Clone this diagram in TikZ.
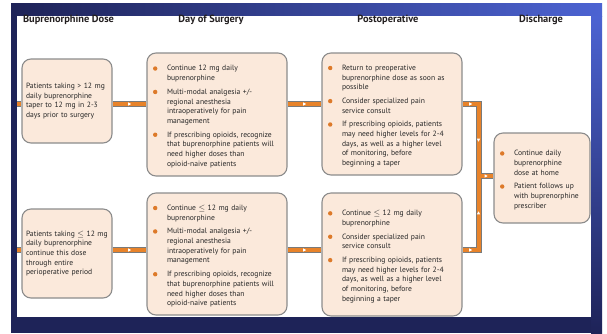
\documentclass[tikz,border=0pt]{standalone}
\usepackage{fontspec}
\setmainfont{PT Sans}
\usetikzlibrary{decorations.markings}
\definecolor{navy}{HTML}{1E2358}
\definecolor{brightblue}{HTML}{4C63D2}
\definecolor{boxfill}{HTML}{FBE9DB}
\definecolor{boxgray}{HTML}{8C8C8C}
\definecolor{lorange}{HTML}{E8832A}
\definecolor{lgray}{HTML}{7A7A7A}
\definecolor{bulletor}{HTML}{DD7A2A}
\definecolor{txt}{HTML}{262626}
\definecolor{hdrtxt}{HTML}{231F20}
\newcommand\bdot{\tikz[baseline=0pt]\fill[bulletor] (2.2pt,2.4pt) circle[radius=2.2pt];}
\newcommand\bitem[1]{\par\hangindent=14pt\hangafter=1\noindent\makebox[14pt][l]{\bdot}#1\par}
\newcommand\igap{\vskip4pt}
\tikzset{
  box/.style={draw=boxgray, line width=1.1pt, fill=boxfill, rounded corners=9pt,
    inner xsep=6pt, inner ysep=3pt, align=left, text=txt,
    font=\fontsize{7.6}{9.7}\selectfont\setlength{\parskip}{0pt}\relax},
  hdr/.style={font=\fontsize{10.4}{12}\selectfont\bfseries, text=hdrtxt, inner sep=0pt},
  cgray/.style={line width=6pt, draw=lgray, line join=miter},
  corange/.style={line width=4pt, draw=lorange, line join=miter},
  midtri/.style={decorate, decoration={markings, mark=at position 0.5 with
    {\fill[white] (1.7pt,0pt) -- (-1.3pt,1.6pt) -- (-1.3pt,-1.6pt) -- cycle;}}},
}
\begin{document}
\begin{tikzpicture}[x=1pt,y=-1pt]
\useasboundingbox (0,0) rectangle (607,333);
% background
\fill[white] (0,0) rectangle (607,333);
\fill[navy] (11,3) rectangle (602,333);
\shade[left color=navy, right color=brightblue] (11,3) rectangle (602,16);
\shade[top color=brightblue, bottom color=navy] (591,16) rectangle (602,333);
\fill[white] (17,16) rectangle (591,317);

% headers
\node[hdr] (h1) at (68.5,20) {Buprenorphine Dose};
\node[hdr] (h2) at (211,20) {Day of Surgery};
\node[hdr] (h3) at (388,20) {Postoperative};
\node[hdr] (h4) at (541,20) {Discharge};

% boxes
\node[box, inner xsep=4pt, text width=82pt, minimum height=84pt] (A1) at (67,101)
 {Patients taking > 12 mg\newline daily buprenorphine\newline taper to 12 mg in 2-3\newline days prior to surgery};
\node[box, inner xsep=4pt, text width=82pt, minimum height=89pt] (A2) at (67,253.5)
 {Patients taking $\leq$ 12 mg\newline daily buprenorphine\newline continue this dose\newline through entire\newline perioperative period};

\node[box, text width=128pt, minimum height=123pt] (B1) at (217,114.5)
 {\bitem{Continue 12 mg daily\newline buprenorphine}\igap
  \bitem{Multi-modal analgesia +/-\newline regional anesthesia\newline intraoperatively for pain\newline management}\igap
  \bitem{If prescribing opioids, recognize\newline that buprenorphine patients will\newline need higher doses than\newline opioid-naive patients}};
\node[box, text width=128pt, minimum height=122pt] (B2) at (217,254)
 {\bitem{Continue $\leq$ 12 mg daily\newline buprenorphine}\igap
  \bitem{Multi-modal analgesia +/-\newline regional anesthesia\newline intraoperatively for pain\newline management}\igap
  \bitem{If prescribing opioids, recognize\newline that buprenorphine patients will\newline need higher doses than\newline opioid-naive patients}};

\node[box, text width=128pt, minimum height=122pt] (C1) at (392,114)
 {\bitem{Return to preoperative\newline buprenorphine dose as soon as\newline possible}\igap
  \bitem{Consider specialized pain\newline service consult}\igap
  \bitem{If prescribing opioids, patients\newline may need higher levels for 2-4\newline days, as well as a higher level\newline of monitoring, before\newline beginning a taper}};
\node[box, text width=128pt, minimum height=123pt] (C2) at (392,254.5)
 {\bitem{Continue $\leq$ 12 mg daily\newline buprenorphine}\igap
  \bitem{Consider specialized pain\newline service consult}\igap
  \bitem{If prescribing opioids, patients\newline may need higher levels for 2-4\newline days, as well as a higher level\newline of monitoring, before\newline beginning a taper}};

\node[box, inner xsep=6pt, text width=84pt, minimum height=90pt] (D) at (542,178)
 {\bitem{Continue daily\newline buprenorphine\newline dose at home}\igap
  \bitem{Patient follows up\newline with buprenorphine\newline prescriber}};

% connector coordinates
\coordinate (toprow) at (0,104);
\coordinate (botrow) at (0,250);
\coordinate (e1) at (17,104);
\coordinate (e2) at (17,250);
\coordinate (jt) at (478.5,104);
\coordinate (jb) at (478.5,250);
\coordinate (jm) at (478.5,176);

% gray outline layer
\draw[cgray] (e1) -- (A1.west|-toprow);
\draw[cgray] (A1.east|-toprow) -- (B1.west|-toprow);
\draw[cgray] (B1.east|-toprow) -- (C1.west|-toprow);
\draw[cgray] (C1.east|-toprow) -- (jt) -- (jm);
\draw[cgray] (e2) -- (A2.west|-botrow);
\draw[cgray] (A2.east|-botrow) -- (B2.west|-botrow);
\draw[cgray] (B2.east|-botrow) -- (C2.west|-botrow);
\draw[cgray] (C2.east|-botrow) -- (jb) -- (jm);
\draw[cgray] (jm) -- (D.west|-jm);
% orange layer
\draw[corange] (e1) -- (A1.west|-toprow);
\draw[corange] (A1.east|-toprow) -- (B1.west|-toprow);
\draw[corange] (B1.east|-toprow) -- (C1.west|-toprow);
\draw[corange] (C1.east|-toprow) -- (jt) -- (jm);
\draw[corange] (e2) -- (A2.west|-botrow);
\draw[corange] (A2.east|-botrow) -- (B2.west|-botrow);
\draw[corange] (B2.east|-botrow) -- (C2.west|-botrow);
\draw[corange] (C2.east|-botrow) -- (jb) -- (jm);
\draw[corange] (jm) -- (D.west|-jm);
% direction markers
\path[midtri] (A1.east|-toprow) -- (B1.west|-toprow);
\path[midtri] (B1.east|-toprow) -- (C1.west|-toprow);
\path[midtri] (C1.east|-toprow) -- (jt);
\path[midtri] (jt) -- (jm);
\path[midtri] (A2.east|-botrow) -- (B2.west|-botrow);
\path[midtri] (B2.east|-botrow) -- (C2.west|-botrow);
\path[midtri] (C2.east|-botrow) -- (jb);
\path[midtri] (jb) -- (jm);
\path[midtri] (jm) -- (D.west|-jm);
\end{tikzpicture}
\end{document}
